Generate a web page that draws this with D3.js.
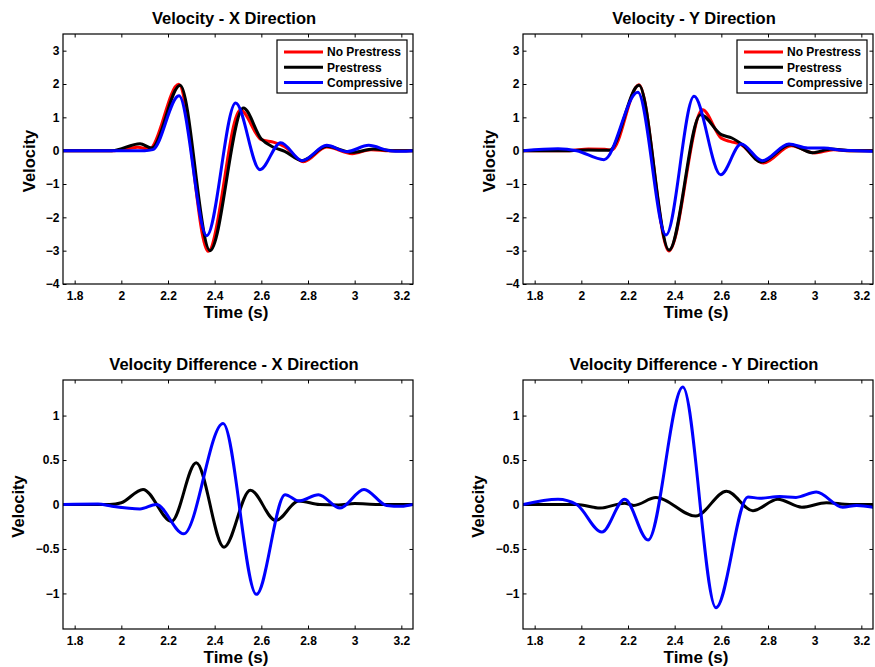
<!DOCTYPE html>
<html><head><meta charset="utf-8">
<script src="https://cdn.jsdelivr.net/npm/d3@7"></script>
<style>
body{margin:0;background:#fff;}
svg text{font-family:"Liberation Sans",Arial,Helvetica,sans-serif;font-weight:bold;fill:#000;}
</style></head><body>
<svg id="chart" width="875" height="667"></svg>
<script>
// ---------- data ----------
const xTickValues = [1.8, 2, 2.2, 2.4, 2.6, 2.8, 3, 3.2];
const velTickValues = [-4, -3, -2, -1, 0, 1, 2, 3];
const diffTickValues = [-1, -0.5, 0, 0.5, 1];
const seriesNames = ["No Prestress", "Prestress", "Compressive"];
const seriesColors = ["#ff0000", "#000000", "#0000ff"];

// Velocity - X Direction  [time (s), velocity]
const velX_noPrestress = [[1.75,0],[1.97,0],[2.07,0.1],[2.12,0.05],[2.246,1.99],[2.372,-3.02],[2.51,1.22],[2.6,0.33],[2.655,0.25],[2.7,0.12],[2.78,-0.33],[2.88,0.11],[2.99,-0.09],[3.07,0.03],[3.15,0],[3.25,0]];
const velX_prestress = [[1.75,0],[1.96,0],[2.08,0.21],[2.13,0.08],[2.252,1.96],[2.38,-3.0],[2.523,1.28],[2.6,0.35],[2.65,0.11],[2.7,-0.02],[2.775,-0.3],[2.88,0.13],[2.99,-0.05],[3.08,0.05],[3.16,0],[3.25,0]];
const velX_compressive = [[1.75,0],[2.1,0],[2.135,0.03],[2.247,1.65],[2.366,-2.55],[2.49,1.43],[2.594,-0.57],[2.683,0.24],[2.775,-0.3],[2.88,0.16],[2.966,-0.03],[3.06,0.16],[3.15,0],[3.2,-0.02],[3.25,0]];

// Velocity - Y Direction
const velY_noPrestress = [[1.75,0],[1.95,0],[2.03,0.05],[2.1,0.04],[2.13,0.02],[2.247,1.98],[2.375,-3.01],[2.519,1.23],[2.6,0.37],[2.64,0.27],[2.68,0.2],[2.78,-0.37],[2.9,0.15],[3.0,-0.07],[3.08,0.03],[3.15,0],[3.25,0]];
const velY_prestress = [[1.75,0],[1.95,0],[2.03,0.02],[2.12,0.01],[2.247,1.96],[2.376,-2.98],[2.511,1.08],[2.6,0.48],[2.645,0.38],[2.69,0.18],[2.771,-0.34],[2.895,0.18],[2.99,-0.06],[3.07,0.05],[3.15,0],[3.25,0]];
const velY_compressive = [[1.75,0],[1.9,0.06],[1.98,0],[2.097,-0.27],[2.242,1.75],[2.363,-2.53],[2.483,1.63],[2.597,-0.72],[2.685,0.2],[2.775,-0.3],[2.89,0.2],[2.97,0.08],[3.04,0.08],[3.12,0.01],[3.18,0],[3.25,-0.02]];

// Velocity Difference - X Direction
const diffX_prestress = [[1.75,0],[1.95,0],[2.0,0.02],[2.093,0.17],[2.215,-0.19],[2.321,0.47],[2.44,-0.48],[2.553,0.16],[2.662,-0.18],[2.76,0.04],[2.85,0],[2.93,-0.005],[3.0,0.01],[3.1,0],[3.25,0]];
const diffX_compressive = [[1.75,0],[1.9,0.005],[1.96,-0.02],[2.08,-0.05],[2.15,0],[2.267,-0.33],[2.436,0.91],[2.579,-1.01],[2.702,0.11],[2.76,0.04],[2.845,0.11],[2.937,-0.04],[3.04,0.17],[3.137,-0.01],[3.2,-0.02],[3.25,0]];

// Velocity Difference - Y Direction
const diffY_prestress = [[1.75,0],[1.98,0],[2.08,-0.04],[2.185,0.015],[2.225,-0.01],[2.32,0.078],[2.49,-0.13],[2.622,0.15],[2.735,-0.07],[2.842,0.06],[2.945,-0.03],[3.05,0.02],[3.15,0],[3.25,0]];
const diffY_compressive = [[1.75,0],[1.9,0.06],[1.98,0],[2.088,-0.31],[2.186,0.06],[2.286,-0.4],[2.435,1.32],[2.577,-1.16],[2.714,0.085],[2.765,0.07],[2.85,0.09],[2.92,0.08],[3.007,0.14],[3.12,-0.03],[3.18,-0.01],[3.25,-0.03]];

// ---------- layout ----------
const panels = [
  {title:"Velocity - X Direction", left:63, top:34, width:350, height:250, yDomain:[-4,3.5], yTicks:velTickValues,
   series:[velX_noPrestress, velX_prestress, velX_compressive], colorIdx:[0,1,2], legend:true, yLabelOff:28.5},
  {title:"Velocity - Y Direction", left:523, top:34, width:350, height:250, yDomain:[-4,3.5], yTicks:velTickValues,
   series:[velY_noPrestress, velY_prestress, velY_compressive], colorIdx:[0,1,2], legend:true, yLabelOff:28.5},
  {title:"Velocity Difference - X Direction", left:63, top:380, width:350, height:249, yDomain:[-1.4,1.4], yTicks:diffTickValues,
   series:[diffX_prestress, diffX_compressive], colorIdx:[1,2], legend:false, yLabelOff:39.5},
  {title:"Velocity Difference - Y Direction", left:523, top:380, width:350, height:249, yDomain:[-1.4,1.4], yTicks:diffTickValues,
   series:[diffY_prestress, diffY_compressive], colorIdx:[1,2], legend:false, yLabelOff:39.5}
];

const svg = d3.select("#chart");
const tickLen = 3.5;

panels.forEach((p, pi) => {
  const g = svg.append("g").attr("transform", `translate(${p.left},${p.top})`);
  const x = d3.scaleLinear().domain([1.75, 3.25]).range([0, p.width]);
  const y = d3.scaleLinear().domain(p.yDomain).range([p.height, 0]);

  const clipId = "clip" + pi;
  g.append("clipPath").attr("id", clipId).append("rect")
    .attr("x", 0).attr("y", 0).attr("width", p.width).attr("height", p.height);

  // axes
  const axB = g.append("g").attr("transform", `translate(0,${p.height})`)
    .call(d3.axisBottom(x).tickValues(xTickValues).tickSize(-tickLen).tickPadding(7).tickFormat(d3.format("")));
  const axT = g.append("g")
    .call(d3.axisTop(x).tickValues(xTickValues).tickSize(-tickLen).tickFormat(""));
  const axL = g.append("g")
    .call(d3.axisLeft(y).tickValues(p.yTicks).tickSize(-tickLen).tickPadding(3.5).tickFormat(d3.format("")));
  const axR = g.append("g").attr("transform", `translate(${p.width},0)`)
    .call(d3.axisRight(y).tickValues(p.yTicks).tickSize(-tickLen).tickFormat(""));
  [axB, axT, axL, axR].forEach(a => {
    a.select(".domain").remove();
    a.selectAll(".tick line").attr("stroke", "#000").attr("stroke-width", 1);
    a.selectAll("text").style("font-size", "12px").attr("fill", "#000");
  });

  // lines
  const line = d3.line().x(d => x(d[0])).y(d => y(d[1])).curve(d3.curveMonotoneX);
  const lg = g.append("g").attr("clip-path", `url(#${clipId})`);
  p.series.forEach((s, i) => {
    lg.append("path").datum(s)
      .attr("d", line)
      .attr("fill", "none")
      .attr("stroke", seriesColors[p.colorIdx[i]])
      .attr("stroke-width", 3)
      .attr("stroke-linejoin", "round")
      .attr("stroke-linecap", "round");
  });

  // box
  g.append("rect").attr("x", 0).attr("y", 0).attr("width", p.width).attr("height", p.height)
    .attr("fill", "none").attr("stroke", "#000").attr("stroke-width", 1.2);

  // title
  svg.append("text").attr("x", p.left + p.width / 2 - 4).attr("y", p.top - 10)
    .attr("text-anchor", "middle").style("font-size", "16.5px").text(p.title);
  // x label
  svg.append("text").attr("x", p.left + p.width / 2 - 2).attr("y", p.top + p.height + 33.5)
    .attr("text-anchor", "middle").style("font-size", "17px").text("Time (s)");
  // y label
  svg.append("text")
    .attr("transform", `translate(${p.left - p.yLabelOff},${p.top + p.height / 2 + 2}) rotate(-90)`)
    .attr("text-anchor", "middle").style("font-size", "16.5px").text("Velocity");

  // legend
  if (p.legend) {
    const bw = 130, bh = 53;
    const lgd = g.append("g").attr("transform", `translate(${p.width - 6 - bw},6)`);
    lgd.append("rect").attr("width", bw).attr("height", bh).attr("fill", "#fff")
      .attr("stroke", "#000").attr("stroke-width", 1.2);
    seriesNames.forEach((name, i) => {
      const ry = 12 + i * 15.3;
      lgd.append("line").attr("x1", 7).attr("x2", 46).attr("y1", ry).attr("y2", ry)
        .attr("stroke", seriesColors[i]).attr("stroke-width", 3);
      lgd.append("text").attr("x", 50).attr("y", ry).attr("dy", "0.36em")
        .style("font-size", "12px").text(name);
    });
  }
});
</script>
</body></html>
